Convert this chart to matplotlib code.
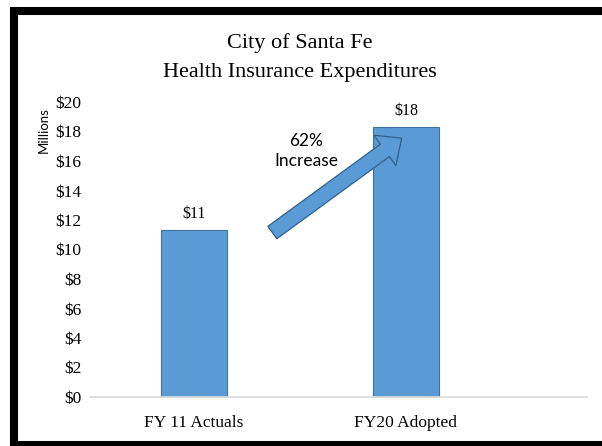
import matplotlib.pyplot as plt
from matplotlib.lines import Line2D

categories = ["FY 11 Actuals", "FY20 Adopted"]
values = [11.3, 18.3]
value_labels = ["$11", "$18"]
yticks = list(range(0, 21, 2))
ytick_labels = ["$%d" % v for v in yticks]

SERIF = "Liberation Serif"
SANS = "Lato"
BAR = "#5B9BD5"
EDGE = "#41719C"

fig = plt.figure(figsize=(6.02, 4.46), dpi=100)
W, H = 602, 446

ax = fig.add_axes([90 / W, 1 - 397 / H, (587 - 90) / W, 295 / H])
x = list(range(len(categories)))
ax.bar(x, values, width=0.31, color=BAR, edgecolor=EDGE, linewidth=0.8)
ax.set_xlim(-0.49, 1.854)
ax.set_ylim(0, 20)

ax.set_yticks(yticks)
ax.set_yticklabels(ytick_labels, family=SERIF, fontsize=12.5)
ax.set_xticks(x)
ax.set_xticklabels(categories, family=SERIF, fontsize=12.5)
ax.tick_params(axis="y", length=0, pad=6)
ax.tick_params(axis="x", length=0, pad=13)
for s in ["top", "right", "left"]:
    ax.spines[s].set_visible(False)
ax.spines["bottom"].set_color("#d9d9d9")
ax.spines["bottom"].set_linewidth(1.2)

for xi, v, lab in zip(x, values, value_labels):
    ax.text(xi, v + 0.55, lab, ha="center", va="bottom", family=SERIF, fontsize=11.5)

# growth arrow from first bar to second
ax.annotate(
    "",
    xy=(x[1] - 0.02, values[1] - 0.75),
    xytext=(x[0] + 0.37, values[0] - 0.15),
    arrowprops=dict(
        arrowstyle="simple,head_length=15,head_width=27,tail_width=11",
        mutation_scale=1,
        fc=BAR,
        ec="#2F5F8F",
        lw=0.9,
        shrinkA=0,
        shrinkB=0,
    ),
)
ax.text(0.53, 16.7, "62%\nIncrease", ha="center", va="center", family=SANS,
        fontsize=12.5, linespacing=1.3)

fig.text(300 / W, 1 - 43 / H, "City of Santa Fe", ha="center", va="center",
         family=SERIF, fontsize=16)
fig.text(300 / W, 1 - 72 / H, "Health Insurance Expenditures", ha="center",
         va="center", family=SERIF, fontsize=16)
fig.text(44 / W, 1 - 130 / H, "Millions", rotation=90, ha="center", va="center",
         family=SANS, fontsize=9.5)

# black frame (top, left, bottom; right side is cut off)
for xs, ys in [((10, W + 10), (11, 11)), ((14, 14), (7, H + 10)), ((10, W + 10), (445, 445))]:
    fig.add_artist(Line2D([v / W for v in xs], [1 - v / H for v in ys],
                          transform=fig.transFigure, color="black", lw=5.8,
                          solid_capstyle="butt", clip_on=False))

fig.savefig("out.png", dpi=100)
